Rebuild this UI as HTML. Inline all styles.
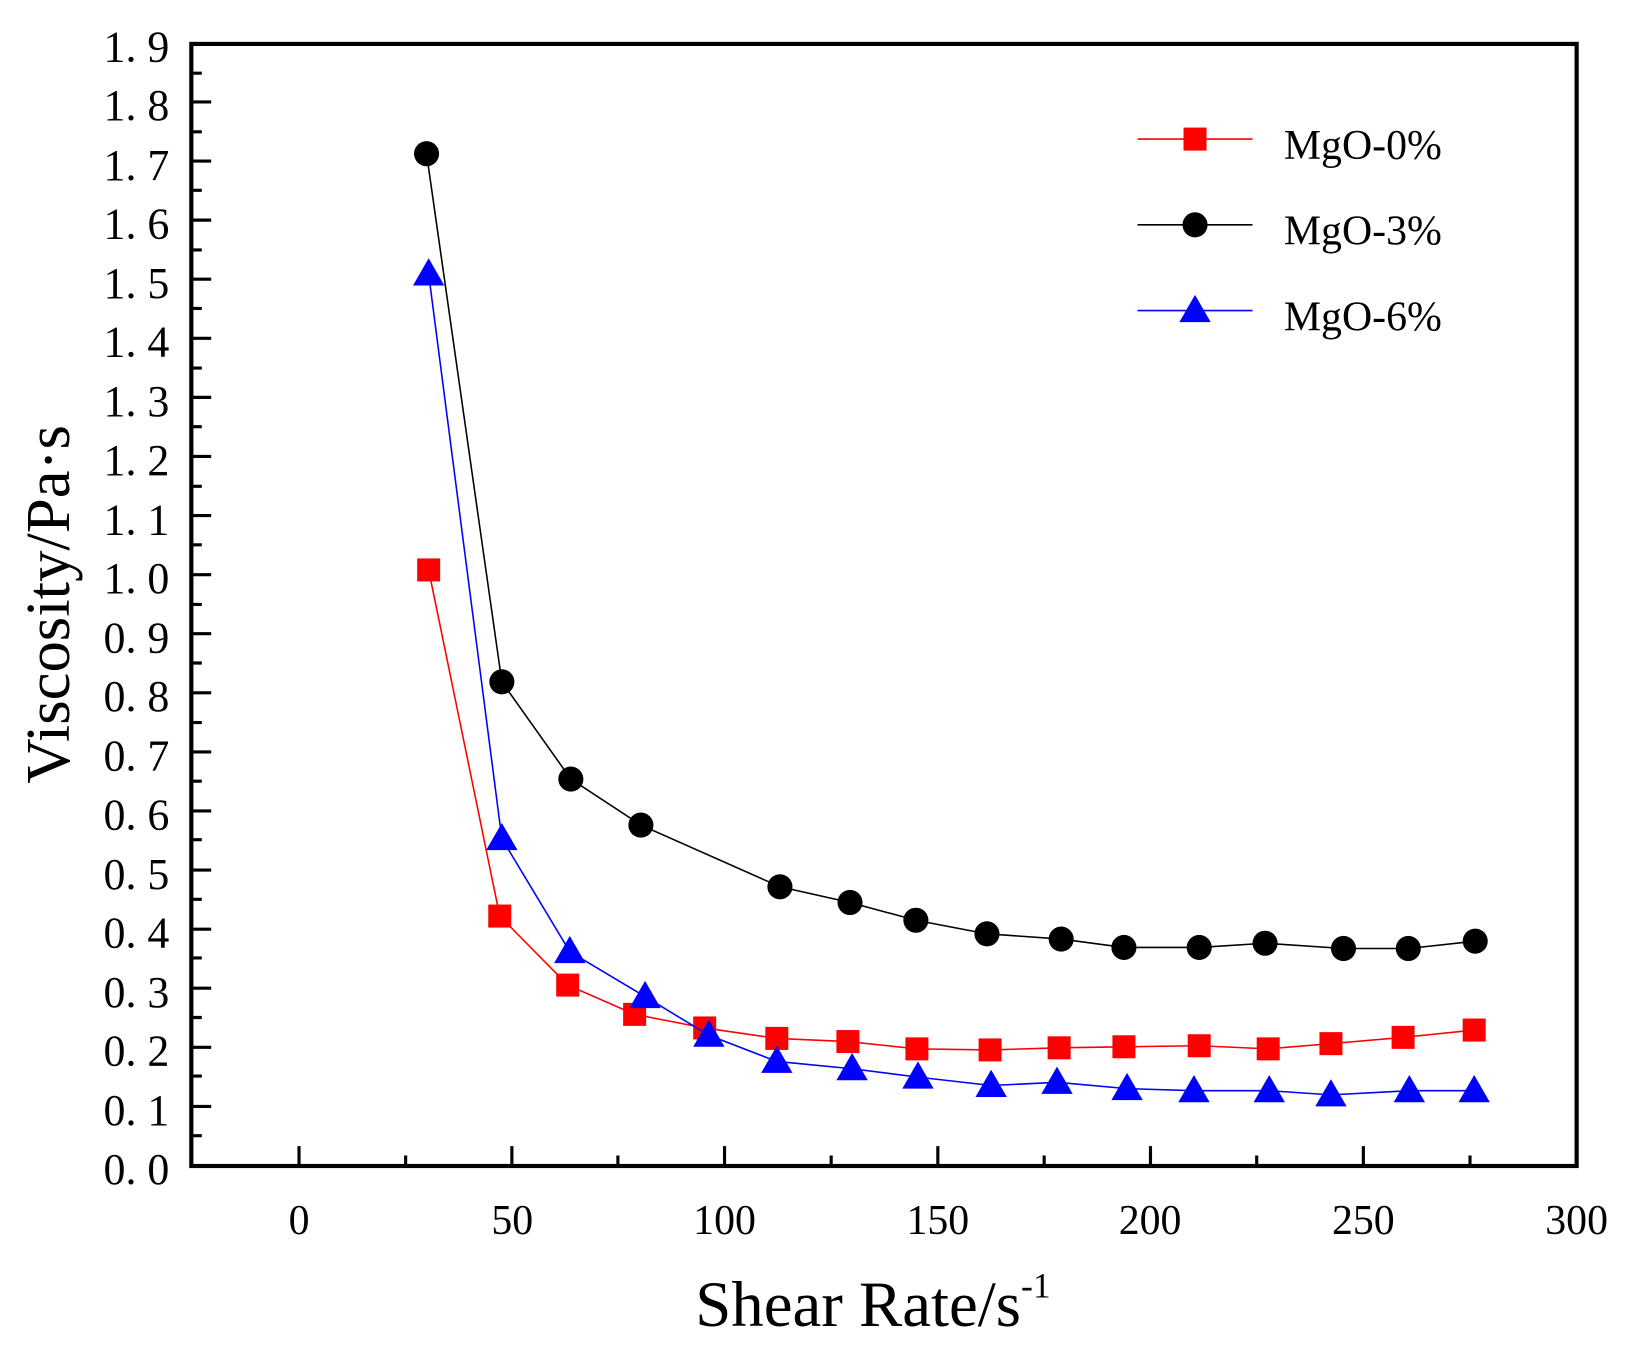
<!DOCTYPE html>
<html><head><meta charset="utf-8"><style>html,body{margin:0;padding:0;background:#fff}svg{display:block}</style></head><body>
<svg width="1631" height="1349" viewBox="0 0 1560 1290" preserveAspectRatio="none" xmlns="http://www.w3.org/2000/svg" font-family="Liberation Serif, serif">
<rect width="1560" height="1290" fill="#fff"/>
<g stroke="#000" stroke-width="3">
<path d="M183 97.5h19M183 154h19M183 210.5h19M183 267h19M183 323.5h19M183 380h19M183 436.5h19M183 493h19M183 549.5h19M183 606h19M183 662.5h19M183 719h19M183 775.5h19M183 832h19M183 888.5h19M183 945h19M183 1001.5h19M183 1058h19"/>
<path d="M183 70h10M183 126h10M183 182h10M183 239h10M183 295h10M183 352h10M183 408h10M183 465h10M183 521h10M183 578h10M183 634h10M183 691h10M183 747h10M183 803h10M183 860h10M183 916h10M183 973h10M183 1029h10M183 1086h10"/>
<path d="M286 1115v-19M489.6 1115v-19M693 1115v-19M897 1115v-19M1100.4 1115v-19M1304 1115v-19"/>
<path d="M388 1115v-10M591 1115v-10M795 1115v-10M998.7 1115v-10M1202 1115v-10M1406 1115v-10"/>
</g>
<rect x="183" y="42" width="1325" height="1073" fill="none" stroke="#000" stroke-width="4"/>
<g font-size="42" text-anchor="end">
<text x="162" y="59">1. 9</text><text x="162" y="115">1. 8</text><text x="162" y="172">1. 7</text><text x="162" y="228">1. 6</text><text x="162" y="285">1. 5</text><text x="162" y="341">1. 4</text><text x="162" y="398">1. 3</text><text x="162" y="454">1. 2</text><text x="162" y="511">1. 1</text><text x="162" y="567">1. 0</text><text x="162" y="624">0. 9</text><text x="162" y="680">0. 8</text><text x="162" y="737">0. 7</text><text x="162" y="793">0. 6</text><text x="162" y="850">0. 5</text><text x="162" y="906">0. 4</text><text x="162" y="963">0. 3</text><text x="162" y="1019">0. 2</text><text x="162" y="1076">0. 1</text><text x="162" y="1132">0. 0</text>
</g>
<g font-size="40" text-anchor="middle">
<text x="286" y="1180">0</text><text x="490" y="1180">50</text><text x="693" y="1180">100</text><text x="897" y="1180">150</text><text x="1100" y="1180">200</text><text x="1304" y="1180">250</text><text x="1508" y="1180">300</text>
</g>
<text x="665" y="1268" font-size="62">Shear Rate/s<tspan font-size="34" dy="-27">-1</tspan></text>
<text transform="translate(66,578) rotate(-90)" font-size="60" text-anchor="middle">Viscosity/Pa·s</text>
<polyline fill="none" stroke="#f00" stroke-width="1.5" points="410,545 478,876 543,942 607,970 674,983 743,993 811,996 877,1003 947,1004 1013,1002 1075,1001 1147,1000 1213,1003 1273,998 1342,992 1410,985"/>
<g fill="#f00">
<rect x="399" y="534" width="22" height="22"/><rect x="467" y="865" width="22" height="22"/><rect x="532" y="931" width="22" height="22"/><rect x="596" y="959" width="22" height="22"/><rect x="663" y="972" width="22" height="22"/><rect x="732" y="982" width="22" height="22"/><rect x="800" y="985" width="22" height="22"/><rect x="866" y="992" width="22" height="22"/><rect x="936" y="993" width="22" height="22"/><rect x="1002" y="991" width="22" height="22"/><rect x="1064" y="990" width="22" height="22"/><rect x="1136" y="989" width="22" height="22"/><rect x="1202" y="992" width="22" height="22"/><rect x="1262" y="987" width="22" height="22"/><rect x="1331" y="981" width="22" height="22"/><rect x="1399" y="974" width="22" height="22"/>
</g>
<polyline fill="none" stroke="#000" stroke-width="1.5" points="408,147 480,652 546,745 613,789 746,848 813,863 876,880 944,893 1015,898 1075,906 1147,906 1210,902 1285,907 1347,907 1411,900"/>
<g fill="#000">
<circle cx="408" cy="147" r="12"/><circle cx="480" cy="652" r="12"/><circle cx="546" cy="745" r="12"/><circle cx="613" cy="789" r="12"/><circle cx="746" cy="848" r="12"/><circle cx="813" cy="863" r="12"/><circle cx="876" cy="880" r="12"/><circle cx="944" cy="893" r="12"/><circle cx="1015" cy="898" r="12"/><circle cx="1075" cy="906" r="12"/><circle cx="1147" cy="906" r="12"/><circle cx="1210" cy="902" r="12"/><circle cx="1285" cy="907" r="12"/><circle cx="1347" cy="907" r="12"/><circle cx="1411" cy="900" r="12"/>
</g>
<polyline fill="none" stroke="#00f" stroke-width="1.5" points="410,262 480,802 545,910 617,953 678,990 743,1015 815,1022 878,1030 948,1038 1011,1035 1078,1041 1142,1043 1214,1043 1273,1047 1348,1043 1410,1043"/>
<g fill="#00f">
<path d="M410,247l15,26h-30z"/><path d="M480,787l15,26h-30z"/><path d="M545,895l15,26h-30z"/><path d="M617,938l15,26h-30z"/><path d="M678,975l15,26h-30z"/><path d="M743,1000l15,26h-30z"/><path d="M815,1007l15,26h-30z"/><path d="M878,1015l15,26h-30z"/><path d="M948,1023l15,26h-30z"/><path d="M1011,1020l15,26h-30z"/><path d="M1078,1026l15,26h-30z"/><path d="M1142,1028l15,26h-30z"/><path d="M1214,1028l15,26h-30z"/><path d="M1273,1032l15,26h-30z"/><path d="M1348,1028l15,26h-30z"/><path d="M1410,1028l15,26h-30z"/>
</g>
<line x1="1088" y1="133" x2="1198" y2="133" stroke="#f00" stroke-width="1.5"/><rect x="1132" y="122" width="22" height="22" fill="#f00"/>
<line x1="1088" y1="215" x2="1198" y2="215" stroke="#000" stroke-width="1.5"/><circle cx="1143" cy="215" r="12"/>
<line x1="1088" y1="297" x2="1198" y2="297" stroke="#00f" stroke-width="1.5"/><path d="M1143,282l15,26h-30z" fill="#00f"/>
<g font-size="40"><text x="1228" y="152">MgO-0%</text><text x="1228" y="234">MgO-3%</text><text x="1228" y="316">MgO-6%</text></g>
</svg>
</body></html>
